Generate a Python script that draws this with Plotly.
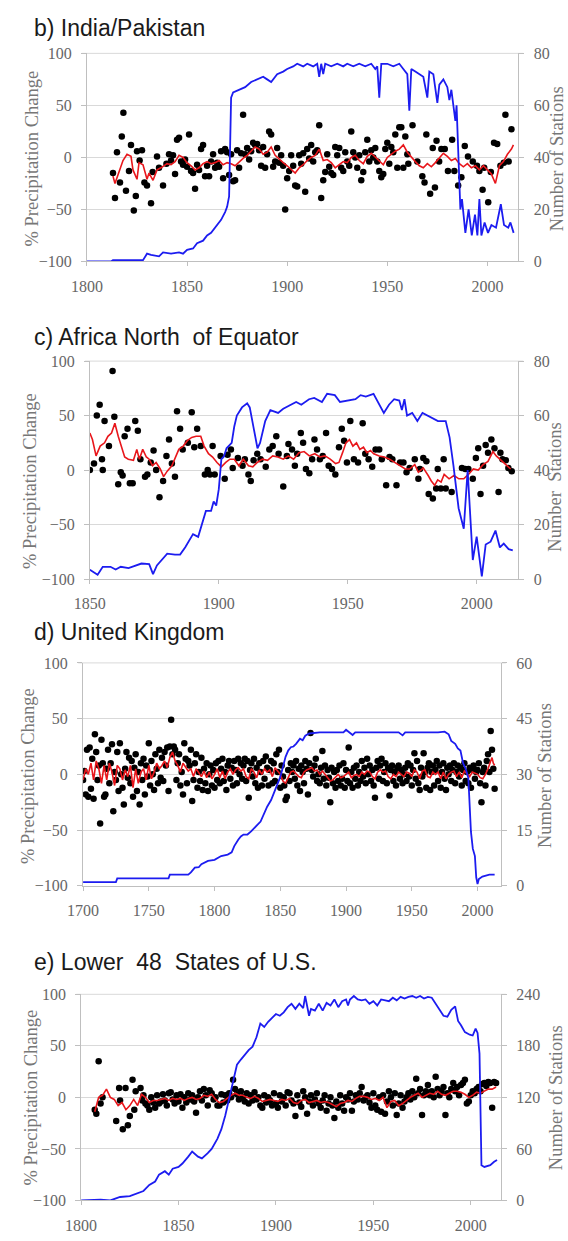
import plotly.graph_objects as go

W, H = 568, 1241

# ---------------- b) India/Pakistan ----------------
b_dot_years = [1813, 1814, 1815, 1816.5, 1817.4, 1818.2, 1819.5, 1821, 1822, 1823.4, 1824.4, 1825, 1826.3,
               1827.5, 1828.7, 1830, 1832, 1832.8, 1835, 1836, 1838, 1839.7, 1841] + list(range(1842, 1960)) + \
              [1960, 1960.5, 1962.6, 1965, 1967.5, 1968.6, 1969.5, 1971.4, 1972.7, 1973.8, 1974.6, 1975.9, 1977,
               1978.7, 1980.3, 1982.4, 1983.5, 1985.4, 1987, 1988.7, 1990.3, 1992.7, 1994.8, 1996, 1997.6, 1998.4,
               2000.4, 2001.7, 2003.3, 2004.9, 2006.5, 2008.2, 2009, 2010.6, 2012]
b_dot_values = [-15, -39, 5, -24, 20, 43, -32, -13, 12, -51, -37, 6, -3, 7, -24, -27, -44, -14, 1, -10, -27, -6, 3,
                # 1842-1959
                -3, 2, -16, 17, 19, -4, -7, -2, -9, 22, -13, -15, -30, -7, -12, 8, 12, -18, -8, -18,
                -4, 3, -10, -5, -9, 6, -20, 8, 5, -17, 3, -23, -22, 7, -10, 4, 41, 3, 9, -2,
                6, 14, 12, 13, 7, -8, 10, -10, 3, 25, 22, -9, -4, 9, -5, 2, -8, -50, -20, -13,
                2, -8, -27, -28, 2, -6, 4, -33, 8, -1, 12, -4, 5, 7, 31, -39, -22, -14, 3, -9,
                -15, -17, 10, 2, 9, -10, -13, 5, -4, -8, 25, 5, 0, -10, 2, -22, -14, 5, 17, -4,
                7, 0, 9, -4, -13, -19, -16, 8, 14, -6, 10, 5, 22, -10, 29, 29, -10, 20,
                # 1960-2012
                3, -6, 31, -4, -18, -24, 22, -35, 9, -29, 16, -4, 8, 8, -13, 17, -13, -27, -19, 11, 1, -4, -8,
                -13, -31, -10, -43, -14, 14, 13, -8, -5, 41, -4, 27]
b_red_years = [1813, 1814, 1816, 1818, 1820, 1822, 1823, 1825, 1826, 1828, 1830, 1831, 1833, 1835, 1837, 1840,
               1842, 1844, 1846, 1848, 1850, 1852, 1854, 1856, 1858, 1860, 1862, 1864, 1866, 1868, 1870, 1872,
               1874, 1876, 1878, 1880, 1882, 1884, 1886, 1888, 1890, 1892, 1894, 1896, 1898, 1900, 1902, 1904,
               1906, 1908, 1910, 1912, 1914, 1916, 1918, 1920, 1922, 1924, 1926, 1928, 1930, 1932, 1934, 1936,
               1938, 1940, 1942, 1944, 1946, 1948, 1950, 1952, 1954, 1956, 1958, 1960, 1962, 1964, 1966, 1968,
               1970, 1972, 1974, 1976, 1978, 1980, 1982, 1984, 1986, 1988, 1990, 1992, 1994, 1996, 1998, 2000,
               2002, 2004, 2006, 2008, 2010, 2012, 2013]
b_red_values = [-18, -25, -14, -3, 3, 1, -12, -21, -5, -7, -21, -15, -22, -12, -10, -6,
                -7, -4, 2, 0, -5, -8, -12, -10, -6, -4, -6, -5, -3, -7, -5, -6,
                -8, -4, -1, 2, 6, 10, 8, 3, 5, 10, 2, -2, -5, -8, -12, -15,
                -10, -7, -3, 0, 2, 8, -3, -2, -5, -10, -7, -4, -5, 0, 2, -3,
                -6, 1, 4, 0, -4, -7, 0, 3, 6, 8, 12, 5, 0, -4, -8, -10,
                -6, -9, -5, 0, 4, 1, -3, -1, -6, -9, -6, -10, -8, -12, -8, -12,
                -16, -25, -8, -4, 3, 8, 12]
b_blue_years = [1800, 1812, 1813, 1828, 1830, 1832, 1836, 1838, 1842, 1846, 1848, 1850, 1853, 1855, 1858, 1860,
                1862, 1865, 1867, 1869, 1870, 1871, 1872, 1873, 1876, 1879, 1882, 1885, 1888, 1890, 1892, 1895,
                1898, 1900, 1903, 1905, 1908, 1910, 1913, 1915, 1916, 1917, 1918, 1919, 1922, 1925, 1928, 1930,
                1933, 1936, 1939, 1942, 1944, 1945, 1946, 1947, 1950, 1953, 1956, 1958, 1960, 1961, 1962, 1964,
                1966, 1968, 1970, 1971, 1973, 1975, 1976, 1978, 1980, 1981, 1982, 1983, 1984, 1984.6, 1985.7,
                1986.5, 1987.3, 1989, 1990.6, 1992.2, 1993.8, 1995, 1996, 1997, 1998.6, 2000.3, 2002, 2004.3,
                2006.7, 2008.3, 2010.4, 2011.5, 2013.1]
b_blue_counts = [0, 0, 0.5, 0.5, 3, 2.5, 2, 3.5, 3, 3.5, 3, 4.5, 5, 7, 8, 10,
                 11, 14, 16, 19, 21, 25, 63, 65, 66, 67, 69, 70, 71, 70, 69, 72,
                 73, 74, 75, 76, 75, 76, 75, 76, 71, 76, 72, 76, 75, 76, 75, 76,
                 75, 76, 75, 76, 74, 75, 63, 76, 76, 75, 76, 74, 72, 58, 74, 73,
                 72, 71, 63, 73, 72, 61, 68, 70, 67, 62, 66, 60, 54, 60, 33,
                 20, 24, 11, 20, 10, 18, 10, 24, 10, 15, 11, 14, 13,
                 22, 14, 13, 15, 11]

# ---------------- c) Africa North of Equator ----------------
c_dot_years = [1850, 1851.6, 1852.7, 1853.8, 1854.7, 1855, 1855.7, 1857.4, 1858.8, 1859.5, 1861, 1862, 1862.7,
               1863.5, 1864.6, 1865.5, 1866.6, 1867.6, 1868.6, 1869.6, 1871.4, 1872.3, 1873.6, 1874.7, 1875.7,
               1877, 1878.4, 1879.7, 1880.7, 1881.8, 1883, 1883.8, 1885, 1886, 1888, 1889.5, 1890.5, 1891.6,
               1893, 1894.6, 1895.7, 1896.6, 1897.6, 1898.4, 1900.7, 1902.3, 1903.4, 1904.7, 1905.4, 1907.4,
               1909.2, 1910.1, 1911.5, 1912.4, 1913.5, 1914.9, 1916.2, 1918.2, 1919.6, 1920.9, 1922.3, 1923.2,
               1925, 1926.4, 1927, 1928.4, 1929.5, 1930.4, 1931.8, 1932.7, 1933.8, 1935.1, 1936.2, 1937.1,
               1938.1, 1939.2, 1940.3, 1941.6, 1942.6, 1943.9, 1945.2, 1946.6, 1947.7, 1948.6, 1949.7, 1951,
               1952.4, 1954, 1955.8, 1956.8, 1958.1, 1959.5, 1960.8, 1962.2, 1963.2, 1964.9, 1966.2, 1967.3,
               1968.9, 1970.3, 1971.6, 1972.8, 1974, 1976, 1977.4, 1978, 1979.3, 1980.5, 1981.4, 1983, 1984.3,
               1984.9, 1986.1, 1987.2, 1988, 1990.3, 1994.3, 1995.6, 1996.8, 1998.5, 1999.7, 2000.6, 2001.5,
               2002.5, 2003.5, 2004.4, 2005.7, 2006.9, 2008.5, 2009.2, 2010, 2011.3, 2012.3, 2013.6]
c_dot_values = [0, 6, 50, 60, 10, 0, 45, 22, 91, 49, -13, -2, -5, 31, 38, -12, -12, 45, 36, 10, -6, -4, 7, 18,
                0, -25, -10, 13, 28, 6, -6, 54, 38, 19, 25, 53, 21, 38, 22, -4, 0, -4, 22, -4, 13, -8, 14, 19,
                2, 11, 4, 10, -4, -10, 9, 15, 10, 3, 19, 22, 31, 15, -15, 13, 24, 19, 4, 15, 34, 25, 1, -3,
                10, 28, 19, 10, 13, 34, 4, 1, -4, 21, 38, 27, 7, 45, 10, 7, 43, 15, 10, 3, 19, 19, 10, -14,
                12, 10, -14, 7, 7, -2, 2, 10, -8, 1, 11, 8, -22, -26, -17, 1, -17, 10, -17, -20, 2, 1, 1, -8,
                11, 20, -22, 4, 23, 16, 28, 20, -20, 16, 10, 9, 2, -1]
c_red_years = [1850, 1851, 1852.4, 1854, 1855.7, 1857, 1858.4, 1859.7, 1861, 1862, 1863.5, 1864.9, 1866.9,
               1868.2, 1869.2, 1870.5, 1871.9, 1873, 1874.3, 1875.7, 1877.3, 1878.6, 1880, 1881.8, 1883, 1884.5,
               1886.2, 1887.8, 1889.5, 1891.2, 1893, 1894.3, 1896, 1897.6, 1899.3, 1901, 1902.7, 1904.3, 1906,
               1907.8, 1909.5, 1911.5, 1913.2, 1914.9, 1916.9, 1918.9, 1920.9, 1922.9, 1925, 1927, 1929, 1931.1,
               1933.1, 1935.1, 1937.2, 1939.2, 1941.2, 1943.2, 1945.3, 1946.6, 1948, 1949.3, 1950.7, 1952,
               1953.4, 1954.7, 1956.1, 1957.4, 1958.8, 1960.1, 1962.2, 1964.2, 1966.2, 1968.2, 1970.3, 1972.3,
               1974, 1976, 1977.4, 1979.3, 1981.2, 1982.4, 1983.7, 1984.9, 1986.2, 1987.4, 1989.3, 1991.2,
               1993.1, 1995, 1996.8, 1998.7, 2000.6, 2002.5, 2004.4, 2006.3, 2007.6, 2009.5, 2011.3, 2013.2]
c_red_values = [34, 28, 13, 22, 25, 31, 34, 43, 31, 24, 12, 10, 9, 19, 10, 19, 12, 10, 4, 7, 1, -6, -1, 4, 10,
                19, 22, 27, 30, 31, 31, 22, 15, 12, 7, 3, 7, 10, 10, 4, 10, 4, 3, 7, 10, 9, 13, 12, 10, 13, 10,
                16, 17, 13, 15, 12, 13, 10, 6, 7, 16, 25, 28, 22, 25, 19, 21, 16, 18, 15, 13, 12, 10, 7, 4, 1,
                1, 5, -2, 2, -5, -10, -14, -9, -11, -4, -8, -5, -8, -8, -4, 1, 0, 5, 8, 17, 13, 9, 5, 1]
c_blue_years = [1850, 1852, 1853, 1855, 1858, 1860, 1862, 1865, 1868, 1870, 1873, 1874.5, 1876, 1878, 1880, 1883,
                1885, 1887, 1889, 1890, 1892, 1893, 1895, 1897, 1898, 1899, 1900, 1901, 1902, 1903, 1905, 1906,
                1907, 1909, 1911, 1912, 1913, 1915, 1916, 1918, 1920, 1923, 1925, 1927, 1930, 1932, 1935, 1937,
                1940, 1942, 1945, 1947, 1950, 1953, 1955, 1957, 1960, 1962, 1964, 1966, 1968, 1970, 1971, 1972,
                1973, 1975, 1977, 1979, 1981, 1983, 1985, 1988, 1989.5, 1991, 1993, 1995, 1996.5, 1998.5, 2000,
                2002, 2003.5, 2005.4, 2007.3, 2009, 2010.5, 2012.4, 2014]
c_blue_counts = [3.4, 2, 1.6, 4.5, 4.5, 3.5, 4.5, 4, 5, 5.7, 5.5, 1.8, 5, 7, 9.3, 9,
                 9, 11.7, 15, 16.5, 15.5, 19, 25, 25, 28.5, 27, 33, 44, 45, 48, 50, 56,
                 60, 63, 64.5, 63, 58, 48, 50, 58, 62, 61, 62.5, 63.5, 65, 64, 66, 66.5,
                 65, 68, 67.5, 65, 65.5, 66, 67.5, 67, 68, 64.5, 61, 64, 66, 65.5, 62, 66,
                 60, 61, 58, 61, 60, 59, 58, 58, 52, 41.6, 26, 18.5, 40, 7, 15.6,
                 1, 12.7, 13.7, 17.8, 11.6, 13, 11, 10.5]

# ---------------- d) United Kingdom ----------------
d_dot_years = list(range(1700, 2014))
d_dot_values = [
    -5, 3, -18, 22, -20, 24, -13, 14, -22, 36,
    20, -5, 8, -44, 31, 10, -20, -18, 5, 22,
    -8, 10, 27, -33, 2, -5, 20, -15, 28, 0,
    -12, -27, 5, 20, -3, 15, -8, 12, -20, 6,
    18, -15, 2, -27, 10, -5, 14, -18, 8, -2,
    28, -10, 12, 0, -14, 18, 5, -8, 22, -3,
    15, -6, 20, 8, 24, -15, 25, 49, 18, 25,
    22, -5, 10, 18, -10, 2, -18, 28, 14, -8,
    12, 8, 22, -24, -5, 10, 18, -12, 2, -6,
    15, -14, 5, -8, 10, -15, 0, 8, -10, 4,
    -12, 10, -5, 12, -8, 5, 14, -6, 2, -14,
    8, 12, -4, 6, -10, 12, 4, -8, 14, 0,
    10, -4, 8, 14, -6, 12, -21, 4, 10, -2,
    14, -8, 6, -12, 10, 2, -10, 12, -4, 16,
    6, -10, 4, 12, -8, 10, -6, 18, 2, 22,
    -12, 8, -2, -10, -23, -20, 4, -6, 10, 2,
    8, -4, 12, -10, 5, -15, 8, 2, -8, 12,
    5, -18, 10, 37, 4, -2, 8, 14, -6, 0,
    -8, 6, 21, -4, 8, -10, 4, -3, -25, 6,
    -8, 2, -12, 4, -6, 8, -10, -4, 10, -12,
    4, -6, 24, -8, 2, -12, 6, -4, 8, -10,
    2, -6, 12, -2, 6, -8, 14, 0, 8, -6,
    4, -10, -21, 6, 12, -4, 8, 14, -6, 2,
    10, -8, 6, -19, 4, 8, -6, 2, -10, 6,
    8, -4, 4, -8, 0, 6, -6, 10, -2, 8,
    -10, 4, 19, -4, 12, -8, -14, 6, -2, 19,
    2, -12, 6, 10, -14, 2, 8, -10, 4, 12,
    -6, 8, -12, 2, 10, -4, -14, 6, 0, 8,
    -6, 4, 10, -8, 2, 8, -2, 6, -10, 4,
    10, -6, 2, -8, 6, -12, 4, 8, -4, 2,
    4, 10, -8, -25, 2, 6, -10, 12, 18, 2,
    39, 22, 5, -13]
d_red_years = list(range(1700, 2010, 2)) + [2010, 2011, 2012, 2013]
d_red_values = [
    -5, 5, 0, 10, -5, 12, 5, -8, 8, -5, 10, 2, -10, 8, 5, -5, 4, -2, 8, -12,
    5, -8, 2, 5, -5, 8, -4, 2, 10, 5, 8, 12, 6, 15, 20, 12, 8, 2, 10, 6,
    3, 5, -2, 5, 2, -2, 3, -3, 2, -4, 0, 5, -3, 3, -4, 2, 5, 0, 4, 6,
    3, 5, -2, -4, 5, 2, -3, 4, 0, 5, 2, 4, -2, 6, 3, 0, -6, -8, -3, 2,
    3, 0, -2, -3, 2, 4, 5, 6, 3, 4, 0, 3, 0, -3, -6, -5, -2, 0, -3, -2,
    0, 2, -3, -1, 0, -2, 2, 0, 3, 2, -2, -4, 2, 4, 2, 3, -2, -4, 0, -2,
    2, 0, -2, 2, 1, -2, 4, 2, -4, 3, 4, -2, -3, 2, 0, 2, -4, 2, -4, 0,
    2, 3, -2, 2, -3, 3, 0, -2, 2, 1, 0, -3, -4, 0, 5,
    12, 15, 10, 8]
d_blue_years = [1700, 1725, 1726, 1765, 1766, 1780, 1782, 1785, 1788, 1790, 1795, 1800, 1805, 1810, 1813, 1815,
                1818, 1820, 1822, 1825, 1828, 1830, 1832, 1835, 1838, 1840, 1843, 1845, 1848, 1850, 1852, 1854,
                1856, 1858, 1860, 1862, 1865, 1867, 1869, 1872, 1880, 1890, 1898, 1900, 1903, 1905, 1907, 1920,
                1940, 1943, 1945, 1970, 1975, 1978, 1980, 1983, 1985, 1987, 1989, 1991, 1993, 1995, 1996.4,
                1998, 1999, 2000, 2001, 2003.7, 2006, 2009, 2013]
d_blue_counts = [1, 1, 2, 2, 3, 3, 3.6, 4.9, 5, 5.8, 6.7, 7, 8, 8.4, 9, 10.7,
                 12.4, 13.3, 13.8, 13.8, 14.7, 15.6, 16.2, 17.3, 19.6, 21.3, 23.1, 24.9, 27.6, 29.3, 32, 34.7,
                 36.4, 37.3, 37.5, 38.2, 39.6, 39.2, 40.4, 41, 41.3, 41.3, 41.3, 42, 41.3, 40.6, 41.3, 41.3,
                 41.3, 40.5, 41.3, 41.3, 41.5, 40.8, 39, 38.2, 37, 36.4, 33, 31.5, 29, 14.5, 10,
                 8, 2.3, 0.5, 1.8, 2.5, 2.7, 3, 3]

# ---------------- e) Lower 48 States of U.S. ----------------
e_dot_years = [1807, 1807.8, 1809, 1810, 1811, 1818, 1819.5, 1820, 1821.4, 1822.8, 1824, 1825, 1826.4, 1827.3,
               1828, 1830.5, 1831.4] + list(range(1832, 2014))
e_dot_values = [-12, -16, 35, -6, 0, -23, 9, -3, -31, 9, -27, -18, 17, -12, 6, 9, -3,
                # 1832-2013
                2, -6, -8, -12, 0, -5, -10, 2, -6, -4, 3, -3, -8, 4, 5, -2, -6, 2,
                -4, 3, -10, 0, -5, 4, -2, 2, -4, -15, 0, 6, -3, 8, 2, -8, 7, 4, -2, 0,
                -8, -8, 3, -5, 2, -3, 4, 0, 17, 8, 3, -2, 6, 0, -4, 4, -6, 2, -3, 5,
                -2, 0, -8, -10, 2, -5, 0, -3, -8, 4, -6, -10, 2, -4, 0, -8, 5, 4, -3, -6,
                -18, 2, -5, -9, 6, 0, -16, -4, 2, -8, -2, 4, -6, -10, -3, 2, -13, -6, 0, -8,
                -20, -4, -10, 2, -6, -13, 0, -2, 4, -13, -4, 2, -2, 4, 10, -3, 0, 2, -5, -10,
                4, -8, -12, 0, -14, 2, -16, -4, 6, 0, -8, 4, -17, -6, 2, -10, -4, 0, 4, -2,
                6, 0, 18, 4, 8, -17, 2, 6, 12, 2, 6, 0, 20, 8, 2, 6, 10, -17, 4, 0,
                8, 14, 6, 10, 2, 12, 14, 17, -6, -4, 2, 6, 4, 8, 10, 6, 13, 14, 11, 15,
                14, -10, 15, 14]
e_red_years = [1807, 1808, 1809, 1811, 1813, 1815, 1817, 1819, 1821, 1823, 1825, 1827, 1829, 1831, 1833, 1835,
               1837, 1839, 1841, 1843, 1845, 1847, 1849, 1851, 1853, 1855, 1857, 1859, 1861, 1863, 1865, 1867,
               1869, 1871, 1873, 1875, 1877, 1879, 1881, 1883, 1885, 1887, 1889, 1891, 1893, 1895, 1897, 1899,
               1901, 1903, 1905, 1907, 1909, 1911, 1913, 1915, 1917, 1919, 1921, 1923, 1925, 1927, 1929, 1931,
               1933, 1935, 1937, 1939, 1941, 1943, 1945, 1947, 1949, 1951, 1953, 1955, 1957, 1959, 1961, 1963,
               1965, 1967, 1969, 1971, 1973, 1975, 1977, 1979, 1981, 1983, 1985, 1987, 1989, 1991, 1993, 1995,
               1997, 1999, 2001, 2003, 2005, 2007, 2009, 2011, 2013]
e_red_values = [-14, -8, 0, 2, 8, 0, -2, -8, -5, -12, -8, -2, -8, 3, 0, -5,
                -3, -3, -2, -1, -3, -1, -2, -1, -3, -1, 0, -2, -1, 2, 1, 3,
                -2, -5, -4, -1, 2, 4, 2, 2, 0, -1, 1, -1, -4, -3, -2, -3,
                -4, -2, -3, -1, -5, -6, -3, -2, -5, -4, -3, -5, -4, -5, -7, -9,
                -6, -5, -3, -4, -1, 1, 1, 0, -2, -1, -3, 0, -10, -4, -3, -8,
                -6, -3, 0, 2, 4, 0, 2, 4, 3, 6, 3, 2, 4, 6, 6, 5,
                3, 0, 2, 5, 4, 6, 8, 8, 10]
e_blue_years = [1800, 1810, 1815, 1820, 1825, 1830, 1832, 1835, 1838, 1840, 1843, 1845, 1847, 1850, 1852, 1855,
                1857, 1860, 1862, 1865, 1867, 1870, 1872, 1874, 1876, 1878, 1880, 1882, 1884, 1886, 1888, 1890,
                1892, 1894, 1896, 1898, 1900, 1902, 1904, 1906, 1908, 1910, 1912, 1914, 1915, 1917, 1918, 1920,
                1922, 1924, 1926, 1928, 1930, 1932, 1934, 1936, 1937, 1938, 1940, 1942, 1944, 1946, 1948, 1950,
                1952, 1954, 1956, 1958, 1960, 1962, 1964, 1966, 1968, 1970, 1972, 1974, 1976, 1978, 1980, 1982,
                1984, 1986, 1988, 1990, 1992, 1993.5, 1995, 1997, 1999.5, 2001, 2002.5, 2003.5, 2004.5, 2005.5,
                2007, 2010, 2012, 2013.5]
e_blue_counts = [0, 1, 0, 4, 5, 9, 11, 18, 22, 30, 34, 30, 37, 39, 43, 51,
                 57, 51, 49, 55, 60, 72, 83, 99, 118, 137, 158, 164, 170, 175, 179, 190,
                 206, 202, 208, 213, 217, 215, 219, 225, 229, 223, 229, 224, 238, 215, 223, 221,
                 229, 221, 230, 227, 234, 225, 232, 234, 227, 234, 238, 234, 233, 234, 229, 232,
                 227, 234, 233, 232, 236, 233, 237, 235, 237, 238, 236, 238, 235, 237, 236, 229,
                 223, 215, 214, 222, 226, 209, 204, 196, 193, 192, 200, 195, 171, 41,
                 39, 41, 45, 47]

# ---------------- panel setup ----------------
panels = [
    dict(title="b) India/Pakistan", dots=(b_dot_years, b_dot_values), red=(b_red_years, b_red_values),
         blue=(b_blue_years, b_blue_counts), box=(73, 517, 46, 257), xr=[1800, 2015.5],
         xt=[1800, 1850, 1900, 1950, 2000], y2r=[0, 80], y2t=[0, 20, 40, 60, 80],
         ty=20, ltx=16, lty=153, rtitle="Number of Stations", rtx=557, rty=153),
    dict(title="c) Africa North\u00a0 of Equator", dots=(c_dot_years, c_dot_values), red=(c_red_years, c_red_values),
         blue=(c_blue_years, c_blue_counts), box=(76, 517, 358, 579), xr=[1850, 2016.2],
         xt=[1850, 1900, 1950, 2000], y2r=[0, 80], y2t=[0, 20, 40, 60, 80],
         ty=334, ltx=15, lty=480, rtitle="Number\u00a0 Stations", rtx=555, rty=485),
    dict(title="d) United Kingdom", dots=(d_dot_years, d_dot_values), red=(d_red_years, d_red_values),
         blue=(d_blue_years, d_blue_counts), box=(69, 499, 664, 890), xr=[1700, 2017.8],
         xt=[1700, 1750, 1800, 1850, 1900, 1950, 2000], y2r=[0, 60], y2t=[0, 15, 30, 45, 60],
         ty=633, ltx=13, lty=779, rtitle="Number of Stations", rtx=545, rty=778),
    dict(title="e) Lower\u00a0 48\u00a0 States of U.S.", dots=(e_dot_years, e_dot_values), red=(e_red_years, e_red_values),
         blue=(e_blue_years, e_blue_counts), box=(67, 499, 1000, 1209), xr=[1800, 2015.5],
         xt=[1800, 1850, 1900, 1950, 2000], y2r=[0, 240], y2t=[0, 60, 120, 180, 240],
         ty=967, ltx=15, lty=1105, rtitle="Number of Stations", rtx=556, rty=1105),
]

GRID = "#d9d9d9"
LINE = "#bfbfbf"
SERIF = "Liberation Serif"
TICKFONT = dict(family=SERIF, size=16, color="#666666")
TITLEFONT = dict(family=SERIF, size=18.5, color="#777777")
HEADFONT = dict(family="Liberation Sans", size=23, color="#1a1a1a")

fig = go.Figure()
annotations = []
layout = dict(width=W, height=H, margin=dict(l=0, r=0, t=0, b=0), paper_bgcolor="white",
              plot_bgcolor="white", showlegend=False, font=dict(family=SERIF))


def nm(kind, n):
    return kind if n == 1 else f"{kind}{n}"


for i, p in enumerate(panels):
    xn, y1n, y2n = i + 1, 2 * i + 1, 2 * i + 2
    L, R, T, B = p["box"]
    xdom = [L / W, R / W]
    ydom = [1 - B / H, 1 - T / H]
    layout[nm("xaxis", xn)] = dict(domain=xdom, anchor=nm("y", y1n), range=p["xr"], tickvals=p["xt"],
                                   showgrid=False, zeroline=False, showline=True, linecolor=LINE,
                                   linewidth=1, mirror=False, ticks="outside", ticklen=4, tickcolor=LINE,
                                   tickfont=dict(TICKFONT), ticklabelstandoff=6)
    layout[nm("yaxis", y1n)] = dict(domain=ydom, anchor=nm("x", xn), range=[-100, 100],
                                    tickvals=[-100, -50, 0, 50, 100], showgrid=True, gridcolor=GRID,
                                    gridwidth=1, zeroline=False, showline=True, linecolor=LINE, ticks="outside",
                                    ticklen=5, tickcolor=LINE, tickfont=dict(TICKFONT), ticklabelstandoff=6)
    layout[nm("yaxis", y2n)] = dict(overlaying=nm("y", y1n), anchor=nm("x", xn), side="right", range=p["y2r"],
                                    tickvals=p["y2t"], showgrid=False, zeroline=False, showline=True,
                                    linecolor=LINE, ticks="outside", ticklen=5, tickcolor=LINE,
                                    tickfont=dict(TICKFONT), ticklabelstandoff=6)
    # top border line matching the 100 gridline
    fig.add_shape(type="line", xref="paper", yref="paper", x0=L / W - 5 / W, x1=R / W + 5 / W,
                  y0=1 - T / H, y1=1 - T / H, line=dict(color=GRID, width=1), layer="below")
    fig.add_trace(go.Scatter(x=p["dots"][0], y=p["dots"][1], mode="markers", xaxis=nm("x", xn),
                             yaxis=nm("y", y1n), marker=dict(color="black", size=6.5, line=dict(width=0))))
    fig.add_trace(go.Scatter(x=p["red"][0], y=p["red"][1], mode="lines", xaxis=nm("x", xn), yaxis=nm("y", y1n),
                             line=dict(color="#e8161b", width=1.6)))
    fig.add_trace(go.Scatter(x=p["blue"][0], y=p["blue"][1], mode="lines", xaxis=nm("x", xn),
                             yaxis=nm("y", y2n), line=dict(color="#1c1cf0", width=1.8)))
    annotations.append(dict(text=p["title"], xref="paper", yref="paper", x=16 / W, y=1 - p["ty"] / H,
                            xanchor="left", yanchor="middle", showarrow=False, font=HEADFONT))
    annotations.append(dict(text="% Precipitation Change", xref="paper", yref="paper", x=p["ltx"] / W,
                            y=1 - p["lty"] / H, xanchor="center", yanchor="middle", textangle=-90,
                            showarrow=False, font=TITLEFONT))
    annotations.append(dict(text=p["rtitle"], xref="paper", yref="paper", x=p["rtx"] / W, y=1 - p["rty"] / H,
                            xanchor="center", yanchor="middle", textangle=-90, showarrow=False, font=TITLEFONT))

layout["annotations"] = annotations
fig.update_layout(**layout)
fig.write_html("out.html", config={"displayModeBar": False, "staticPlot": True},
               post_script="document.body.style.margin='0';document.body.style.padding='0';"
                           "document.body.style.overflow='hidden';"
                           "document.documentElement.style.overflow='hidden';")
